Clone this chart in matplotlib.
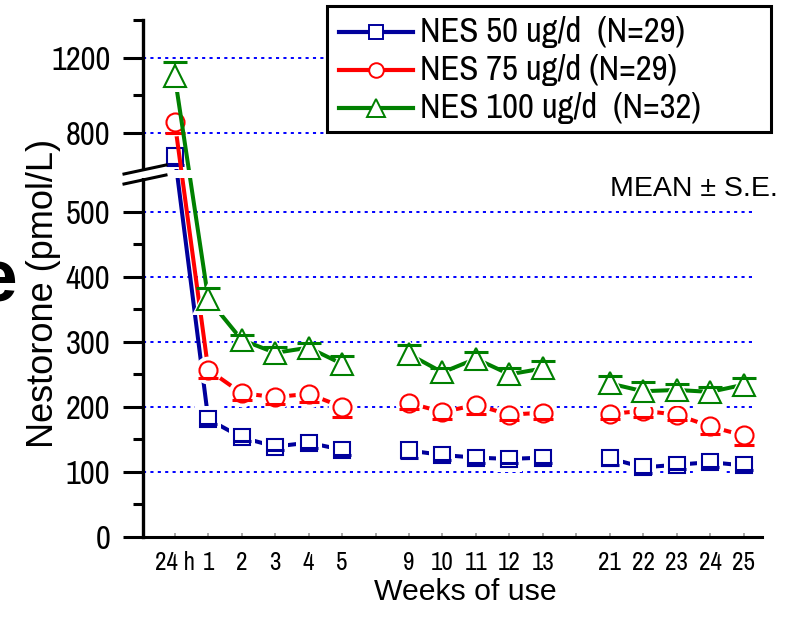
import numpy as np
import matplotlib
matplotlib.use('Agg')
import matplotlib.pyplot as plt
from matplotlib.lines import Line2D
from matplotlib.patches import Rectangle
import matplotlib.transforms as mtransforms

# 数据
x_labels = ['24 h', '1', '2', '3', '4', '5', '9', '10', '11', '12', '13',
            '21', '22', '23', '24', '25']
x_pos = [0, 1, 2, 3, 4, 5, 7, 8, 9, 10, 11, 13, 14, 15, 16, 17]
groups = [(0, 6), (6, 11), (11, 16)]   # points joined by a line

nes50 = [678, 181, 153, 139, 145, 134, 133, 126, 122, 120, 122, 121, 107, 111, 115, 110]
nes50_se = [49, 8, 6, 5, 8, 8, 11, 7, 8, 6, 8, 10, 8, 7, 8, 7]
nes75 = [855, 257, 221, 215, 220, 200, 206, 192, 203, 188, 191, 189, 194, 188, 170, 156]
nes75_se = [55, 13, 10, 10, 12, 16, 10, 10, 14, 8, 9, 8, 10, 8, 12, 14]
nes100 = [1100, 366, 303, 283, 291, 266, 281, 253, 274, 250, 259, 236, 224, 226, 223, 234]
nes100_se = [77, 16, 8, 9, 7, 12, 14, 7, 10, 10, 12, 12, 14, 9, 8, 10]

y_major = [0, 100, 200, 300, 400, 500, 800, 1200]
y_minor = [50, 150, 250, 350, 450, 1000, 1400]
grid_vals = [100, 200, 300, 400, 500, 800, 1200]

BLUE, RED, GREEN = '#00009C', '#FF0000', '#008000'
series = [
    ('NES 50 ug/d  (N=29)', nes50, nes50_se, BLUE, 's', 11.5, 'down', 9.5),
    ('NES 75 ug/d (N=29)', nes75, nes75_se, RED, 'o', 13.0, 'down', 10.5),
    ('NES 100 ug/d  (N=32)', nes100, nes100_se, GREEN, '^', 15.5, 'up', 13.0),
]

plt.rcParams['font.family'] = ['Liberation Sans', 'DejaVu Sans']
NARROW = ['Archivo Narrow', 'Liberation Sans', 'DejaVu Sans']

W, H = 790, 619

# 断轴：下段 0-551 线性，上段 >603 压缩
Y_KNOTS = [-1000.0, 551.0, 603.0, 5000.0]
T_KNOTS = [-1000.0, 551.0, 564.6, 621.5 + (5000 - 800) * 0.2885]


def fwd(y):
    return np.interp(y, Y_KNOTS, T_KNOTS)


def inv(t):
    return np.interp(t, T_KNOTS, Y_KNOTS)


fig = plt.figure(figsize=(W / 100, H / 100), dpi=100)
ax = fig.add_axes([143 / W, 1 - 537 / H, 619 / W, 517 / H])
ax.set_yscale('function', functions=(fwd, inv))
ax.set_xlim(-0.95, 17.55)
ax.set_ylim(0, 1400)

# 网格线
ax.hlines(grid_vals, -0.95, 17.38, colors='#0000FF', lw=1.4,
          linestyles=(0, (1.6, 2.2)), zorder=1)

x = np.array(x_pos, float)
for k, (label, vals, se, col, mk, ms, side, lms) in enumerate(series):
    z = 2 + k
    y = np.array(vals, float)
    e = np.array(se, float)
    for a, b in groups:
        ax.plot(x[a:b], y[a:b], color=col, lw=2.9, zorder=z, solid_capstyle='butt')
    # white halo -> gap between line and marker
    ax.plot(x, y, ls='none', marker=mk, ms=ms + 7, mfc='white', mec='white',
            mew=0, zorder=z + 0.1)
    ends = y + e if side == 'up' else y - e
    ax.vlines(x, y, ends, color=col, lw=1.5, zorder=z + 0.2)
    ax.plot(x, y, ls='none', marker=mk, ms=ms, mfc='white', mec=col, mew=1.5,
            zorder=z + 0.3)
    ax.plot(x, ends, ls='none', marker='_', ms=ms + 1.5, mew=2.2, color=col,
            zorder=z + 0.4)

# 坐标轴
for s in ['top', 'right']:
    ax.spines[s].set_visible(False)
ax.spines['left'].set_linewidth(2.4)
ax.spines['bottom'].set_linewidth(2.2)

ax.set_yticks(y_major)
ax.set_yticklabels([str(v) for v in y_major], fontfamily=NARROW, fontsize=23.5)
ax.set_yticks(y_minor, minor=True)
ax.tick_params(axis='y', which='major', direction='out', length=14.4, width=2.2, pad=9)
ax.tick_params(axis='y', which='minor', direction='out', length=7.5, width=2.2)

tick_text = dict(zip(x_pos, x_labels))
all_pos = list(range(18))
ax.set_xticks(all_pos)
ax.set_xticklabels([tick_text.get(p, '') for p in all_pos], fontfamily=NARROW,
                   fontsize=18)
ax.tick_params(axis='x', which='major', direction='in', length=3, width=1.2,
               color='0.6', pad=10)

ax.set_xlabel('Weeks of use', fontsize=21.8)
ax.xaxis.set_label_coords((465 - 143) / 619, (537 - 578) / 517)
ax.set_ylabel('Nestorone (pmol/L)', fontsize=26)
ax.yaxis.set_label_coords((61 - 143) / 619, (537 - 293) / 517)

# 断轴遮罩与斜线
trans = mtransforms.blended_transform_factory(ax.transAxes, ax.transData)
ax.add_patch(Rectangle((-0.04, 551), 0.16, 52, transform=trans, fc='white',
                       ec='none', clip_on=False, zorder=10))
for dy in (0, 10):
    ax.add_line(Line2D([(124 - 143) / 619, (166 - 143) / 619],
                       [(537 - 174 - dy) / 517, (537 - 165 - dy) / 517],
                       transform=ax.transAxes, color='black', lw=2.2,
                       clip_on=False, zorder=11))

# 图例
fig.add_artist(Rectangle((327 / W, 1 - 132 / H), (771 - 327) / W, (132 - 6) / H,
                         transform=fig.transFigure, fc='white', ec='black',
                         lw=2.2, zorder=20))
for i, (label, vals, se, col, mk, ms, side, lms) in enumerate(series):
    yy = 1 - (32 + 38 * i) / H
    fig.add_artist(Line2D([339 / W, 376 / W, 413 / W], [yy, yy, yy],
                          transform=fig.transFigure, color=col, lw=3,
                          marker=mk, markevery=[1], ms=lms, mfc='white',
                          mec=col, mew=1.4, zorder=21))
    fig.text(420 / W, yy, label, fontfamily=NARROW, fontsize=25,
             va='center', ha='left', zorder=21)

fig.text(778 / W, 1 - 189 / H, 'MEAN \u00b1 S.E.', fontsize=20.5,
         ha='right', va='center')
fig.text(-25 / W, 1 - 302 / H, 'e', fontsize=54, fontweight='bold',
         ha='left', va='baseline')

fig.savefig('out.png', dpi=100)
